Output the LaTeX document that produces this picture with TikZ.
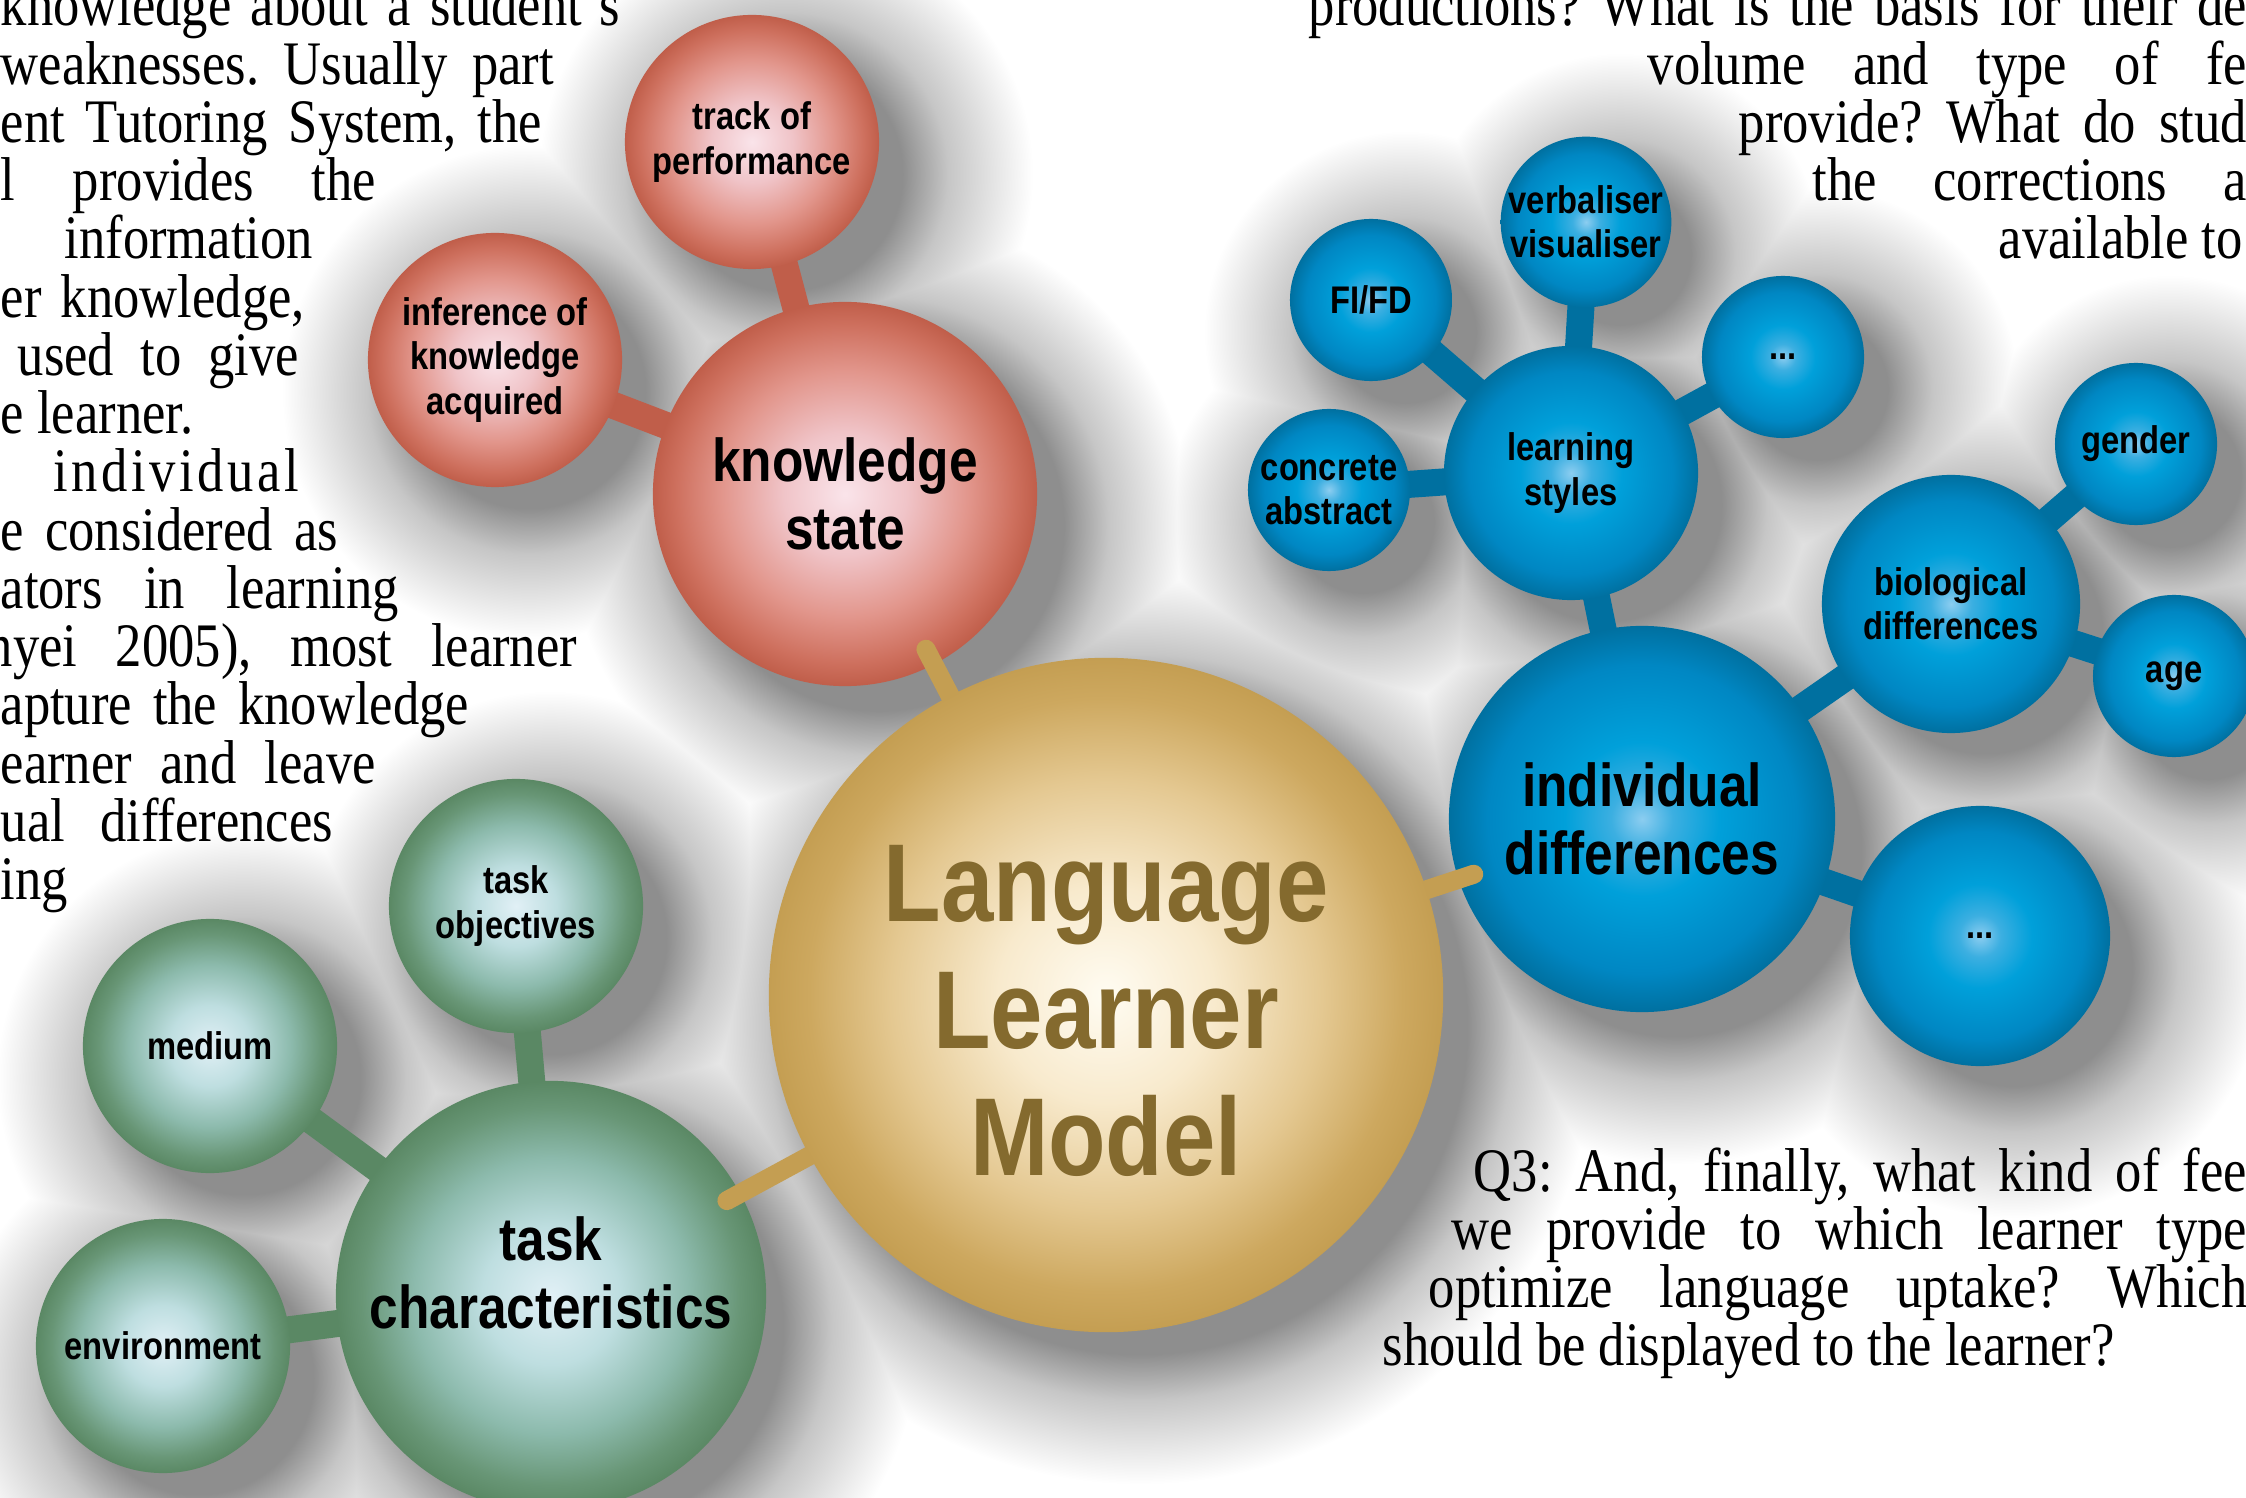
\documentclass[tikz,border=0pt]{standalone}
\usepackage{fontspec}
\setmainfont{Liberation Serif}[FakeStretch=0.85]
\newfontfamily\bubblefont{Liberation Sans}[FakeStretch=0.85]
\usetikzlibrary{calc}

\definecolor{redA}{RGB}{250,228,234}
\definecolor{redB}{RGB}{240,196,200}
\definecolor{redC}{RGB}{226,150,140}
\definecolor{redD}{RGB}{206,112,94}
\definecolor{redE}{RGB}{192,94,74}
\definecolor{greenA}{RGB}{225,240,246}
\definecolor{greenB}{RGB}{190,222,224}
\definecolor{greenC}{RGB}{140,186,172}
\definecolor{greenD}{RGB}{104,150,118}
\definecolor{greenE}{RGB}{90,136,100}
\definecolor{blueA}{RGB}{140,205,240}
\definecolor{blueB}{RGB}{60,175,225}
\definecolor{blueC}{RGB}{0,160,218}
\definecolor{blueD}{RGB}{0,135,195}
\definecolor{blueE}{RGB}{0,112,160}
\definecolor{goldA}{RGB}{255,252,242}
\definecolor{goldB}{RGB}{248,234,205}
\definecolor{goldC}{RGB}{228,200,145}
\definecolor{goldD}{RGB}{205,168,95}
\definecolor{goldE}{RGB}{196,158,82}
\definecolor{goldText}{RGB}{132,106,46}
\definecolor{shadowGrey}{RGB}{142,142,142}
\definecolor{shadowSoft}{RGB}{198,198,198}

\pgfdeclareradialshading{redball}{\pgfpoint{0bp}{0bp}}{color(0bp)=(redA); color(8bp)=(redB); color(16bp)=(redC); color(22bp)=(redD); color(25bp)=(redE); color(50bp)=(redE)}
\pgfdeclareradialshading{greenball}{\pgfpoint{0bp}{0bp}}{color(0bp)=(greenA); color(8bp)=(greenB); color(16bp)=(greenC); color(22bp)=(greenD); color(25bp)=(greenE); color(50bp)=(greenE)}
\pgfdeclareradialshading{blueball}{\pgfpoint{0bp}{0bp}}{color(0bp)=(blueA); color(4bp)=(blueB); color(10bp)=(blueC); color(20bp)=(blueD); color(25bp)=(blueE); color(50bp)=(blueE)}
\pgfdeclareradialshading{goldball}{\pgfpoint{0bp}{0bp}}{color(0bp)=(goldA); color(8bp)=(goldB); color(16bp)=(goldC); color(22bp)=(goldD); color(25bp)=(goldE); color(50bp)=(goldE)}
\newcommand\shadowdecl[3]{\pgfdeclareradialshading{#1}{\pgfpoint{0bp}{0bp}}{color(0bp)=(shadowGrey); color(#2bp)=(shadowGrey); color(#3bp)=(shadowSoft); color(25bp)=(white); color(50bp)=(white)}}
\shadowdecl{shadowS}{8.8}{14.4}
\shadowdecl{shadowM}{11.8}{16.4}
\shadowdecl{shadowL}{14.8}{18.4}
\shadowdecl{shadowX}{17.9}{20.4}

\pgfdeclarelayer{background}
\pgfsetlayers{background,main}

\tikzset{
  bubble/.style={circle, inner sep=0pt, align=center, shade},
  hub/.style={bubble, minimum size=6.74cm, shading=goldball},
  hubtext/.style={inner sep=0pt, align=center, text=goldText, font=\bubblefont\bfseries\fontsize{31.5}{36}\selectfont},
  branch/.style={bubble, font=\bubblefont\bfseries\fontsize{17.2}{19.3}\selectfont},
  leaf/.style={bubble, minimum size=2.54cm, font=\bubblefont\bfseries\fontsize{10.95}{12.6}\selectfont},
  twig/.style={leaf, minimum size=1.62cm},
  redbub/.style={shading=redball},
  greenbub/.style={shading=greenball},
  bluebub/.style={shading=blueball},
  link/.style={line width=0.27cm},
  goldlink/.style={line width=0.19cm, line cap=round, draw=goldE},
  para/.style={anchor=base west, inner sep=0pt, font=\frenchspacing\fontsize{17.6}{19}\selectfont}
}

\begin{document}
\begin{tikzpicture}[x=0.01cm,y=-0.01cm]
\useasboundingbox (0,0) rectangle (2246,1498);

\node[branch, redbub, minimum size=3.84cm] (ks) at (845,494) {knowledge\\state};
\node[leaf, redbub] (tp) at (752,142) {track of\\performance};
\node[leaf, redbub] (ika) at (495,360) {inference of\\knowledge\\acquired};

\node[branch, greenbub, minimum size=4.3cm, text depth=0.46cm] (tc) at (551,1296) {task\\characteristics};
\node[leaf, greenbub] (tob) at (516,906) {task\\objectives};
\node[leaf, greenbub] (med) at (210,1046) {medium};
\node[leaf, greenbub] (env) at (163,1346) {environment};

\node[branch, bluebub, minimum size=3.86cm] (id) at (1642,819) {individual\\differences};
\node[leaf, bluebub] (ls) at (1571,473) {learning\\styles};
\node[twig, bluebub] (fifd) at (1371,300) {FI/FD};
\node[twig, bluebub] (vv) at (1586,222) {verbaliser\\visualiser};
\node[twig, bluebub] (more1) at (1783,357) {...};
\node[twig, bluebub] (ca) at (1329,490) {concrete\\abstract};
\node[leaf, bluebub, minimum size=2.58cm] (bio) at (1951,604) {biological\\differences};
\node[twig, bluebub] (gen) at (2136,444) {gender};
\node[twig, bluebub] (age) at (2174,676) {age};
\node[leaf, bluebub, minimum size=2.6cm] (more2) at (1980,936) {...};

\coordinate (hub) at (1106,995);
\draw[goldlink] (hub) -- ($(ks.center)!1.75cm!(hub)$);
\draw[goldlink] (hub) -- ($(tc.center)!2.0cm!(hub)$);
\draw[goldlink] (hub) -- ($(id.center)!1.77cm!(hub)$);
\node[hub] (llm) at (hub) {};
\node[hubtext] (llmtext) at ([yshift=-0.16cm]llm.center) {Language\\Learner\\Model};

\begin{pgfonlayer}{background}
\fill[white] (0,0) rectangle (2246,1498);
\begin{scope}[blend mode=darken]
\foreach \n/\r/\s in {llm/3.37/X,ks/1.92/L,tp/1.27/M,ika/1.27/M,tc/2.15/L,tob/1.27/M,med/1.27/M,env/1.27/M,id/1.93/L,ls/1.27/M,fifd/0.81/S,vv/0.81/S,more1/0.81/S,ca/0.81/S,bio/1.29/M,gen/0.81/S,age/0.81/S,more2/1.3/M}
  \shade[shading=shadow\s] ([shift={(34,32)}]\n.center) circle[radius=\r cm+1.2cm];
\end{scope}

\foreach \k/\x/\w/\t [count=\i] in {
  0/0/6.19/{knowledge about a student´s},
  1/0/5.53/{weaknesses. Usually part},
  2/0/5.41/{ent Tutoring System, the},
  3/0/3.75/{l provides the},
  5/0/3.04/{er knowledge,},
  6/17/2.81/{used to give},
  9/0/3.37/{e considered as},
  10/0/3.98/{ators in learning},
  11/-14/5.90/{nyei 2005), most learner},
  12/0/4.68/{apture the knowledge},
  13/0/3.75/{earner and leave},
  14/0/3.32/{ual differences},
  0/1308/9.38/{productions? What is the basis for their de},
  1/1647/5.99/{volume and type of fe},
  2/1738/5.08/{provide? What do stud},
  3/1812/4.34/{the corrections a},
  20/1473/7.73/{Q3: And, finally, what kind of fee},
  21/1451/7.95/{we provide to which learner type},
  22/1428/8.18/{optimize language uptake? Which}}
  \node[para] (row\i) at (\x,{26+58.25*\k}) {\makebox[\w cm][s]{\t}};
\node[para] (info) at (64,{26+58.25*4}) {information};
\node[para] (lrn) at (0,{26+58.25*7}) {e learner.};
\node[para] (indiv) at (53,{26+58.25*8}) {\makebox[2.45cm][l]{i\hfill n\hfill d\hfill i\hfill v\hfill i\hfill d\hfill u\hfill a\hfill l}};
\node[para] (ing) at (0,{26+58.25*15}) {ing};
\node[para] (avail) at (1998,{26+58.25*4}) {available to};
\node[para] (disp) at (1382,{26+58.25*23}) {should be displayed to the learner?};

\draw[link, draw=redE] (ks.center) -- (tp.center);
\draw[link, draw=redE] (ks.center) -- (ika.center);
\draw[link, draw=greenE] (tc.center) -- (tob.center);
\draw[link, draw=greenE] (tc.center) -- (med.center);
\draw[link, draw=greenE] (tc.center) -- (env.center);
\draw[link, draw=blueE] (id.center) -- (ls.center);
\draw[link, draw=blueE] (ls.center) -- (fifd.center);
\draw[link, draw=blueE] (ls.center) -- (vv.center);
\draw[link, draw=blueE] (ls.center) -- (more1.center);
\draw[link, draw=blueE] (ls.center) -- (ca.center);
\draw[link, draw=blueE] (id.center) -- (bio.center);
\draw[link, draw=blueE] (bio.center) -- (gen.center);
\draw[link, draw=blueE] (bio.center) -- (age.center);
\draw[link, draw=blueE] (id.center) -- (more2.center);
\end{pgfonlayer}
\end{tikzpicture}
\end{document}
